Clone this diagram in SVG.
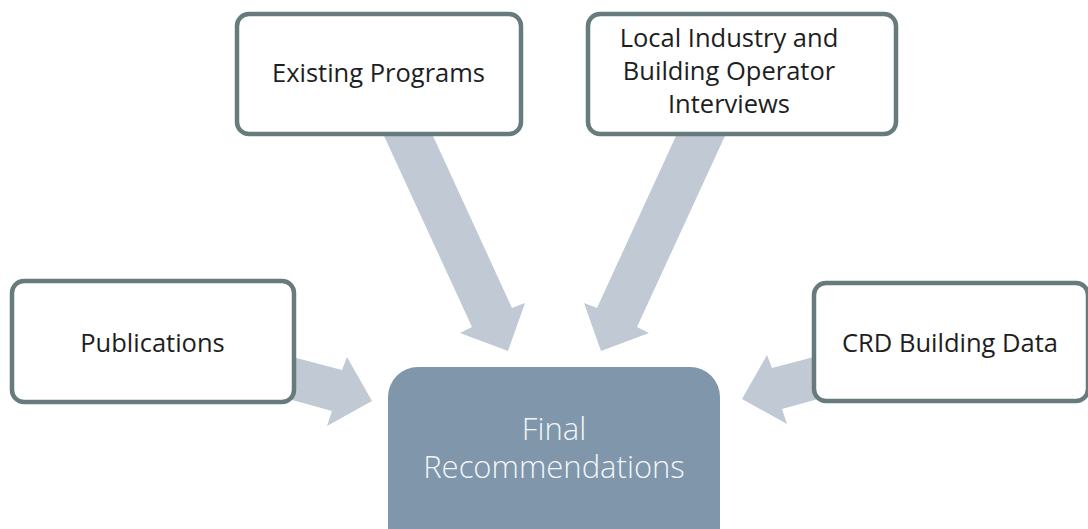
<svg xmlns="http://www.w3.org/2000/svg" width="1088" height="529" viewBox="0 0 1088 529">
  <style>
    .flow { fill: #c1c9d5; stroke: none; }
    .src rect { fill: #ffffff; stroke: #687b7c; stroke-width: 4.5; }
    .src text { font-family: "Open Sans", "Noto Sans", sans-serif; font-size: 25.5px; fill: #1e1e1e; text-anchor: middle; }
    .goal rect { fill: #7f96ab; stroke: none; }
    .goal text { font-family: "Open Sans", "Noto Sans", sans-serif; font-weight: 300; font-size: 31px; fill: #f2f5f8; text-anchor: middle; }
  </style>

  <!-- block arrows feeding the result -->
  <g id="connectors">
    <polygon class="flow" points="379,125 428,125 512,308 525,303 508,351 460,333 472,327"/>
    <polygon class="flow" points="730,125 681,125 597,308 584,303 601,351 649,333 637,327"/>
    <polygon class="flow" points="285,355 342,370 347,357 372,401 327,426 332,411 285,398"/>
    <polygon class="flow" points="829,353 772,368 767,355 742,399 787,424 782,409 829,396"/>
  </g>

  <g id="existing-programs" class="src">
    <rect x="237" y="14" width="284" height="120" rx="12"/>
    <text x="378.5" y="82">Existing Programs</text>
  </g>

  <g id="interviews" class="src">
    <rect x="588" y="14" width="308" height="120" rx="12"/>
    <text x="729" y="47">Local Industry and</text>
    <text x="729" y="80">Building Operator</text>
    <text x="729" y="113">Interviews</text>
  </g>

  <g id="publications" class="src">
    <rect x="12" y="281" width="282" height="121" rx="12"/>
    <text x="152.5" y="352">Publications</text>
  </g>

  <g id="crd-building-data" class="src">
    <rect x="814" y="283" width="274" height="118" rx="12"/>
    <text x="950" y="352">CRD Building Data</text>
  </g>

  <g id="final-recommendations" class="goal">
    <rect x="388" y="367" width="332" height="200" rx="30"/>
    <text x="554" y="440">Final</text>
    <text x="554" y="478">Recommendations</text>
  </g>
</svg>
